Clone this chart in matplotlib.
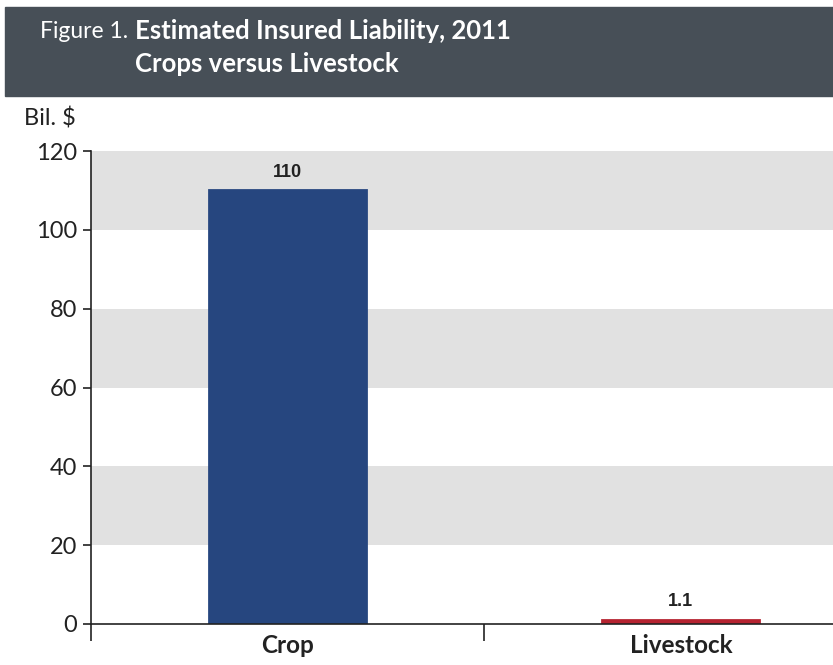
import matplotlib.pyplot as plt
from matplotlib.patches import Rectangle

categories = ["Crop", "Livestock"]
values = [110, 1.1]
value_labels = ["110", "1.1"]
bar_colors = ["#26467f", "#b52330"]
yticks = [0, 20, 40, 60, 80, 100, 120]

W, H = 833, 665
fig = plt.figure(figsize=(W / 100, H / 100), dpi=100)
fig.patch.set_facecolor("white")

narrow = ["Lato", "DejaVu Sans"]

# header band
fig.add_artist(Rectangle((5 / W, 1 - 96 / H), 1, (96 - 7) / H,
                         transform=fig.transFigure, color="#474f57", zorder=0))
fig.text(40 / W, 1 - 31 / H, "Figure 1.", color="white", fontsize=16.5,
         family=narrow, va="center", ha="left")
fig.text(135 / W, 1 - 31 / H, "Estimated Insured Liability, 2011", color="white",
         fontsize=18.5, family=narrow, fontweight="bold", va="center", ha="left")
fig.text(135 / W, 1 - 64 / H, "Crops versus Livestock", color="white",
         fontsize=18.5, family=narrow, fontweight="bold", va="center", ha="left")

fig.text(24 / W, 1 - 118 / H, "Bil. $", color="#222222", fontsize=17,
         family=narrow, va="center", ha="left")

ax = fig.add_axes([91 / W, 1 - 624 / H, (W - 91) / W, (624 - 151) / H])
ax.set_xlim(-0.5, 1.387)
ax.set_ylim(0, 120)

# alternating horizontal bands
for lo in (20, 60, 100):
    ax.axhspan(lo, lo + 20, color="#e1e1e1", zorder=0, lw=0)

x = list(range(len(categories)))
ax.bar(x, values, width=0.4, color=bar_colors, edgecolor=bar_colors,
       linewidth=2, zorder=2)
for xi, v, lab in zip(x, values, value_labels):
    ax.annotate(lab, (xi, v), xytext=(0, 7), textcoords="offset points",
                ha="center", va="bottom", fontsize=13, fontweight="bold",
                color="#222222", family=["Liberation Sans", "DejaVu Sans"])

for s in ("top", "right"):
    ax.spines[s].set_visible(False)
ax.spines["left"].set_color("#222222")
ax.spines["bottom"].set_color("#222222")
ax.spines["left"].set_linewidth(1.2)
ax.spines["bottom"].set_linewidth(1.2)

ax.set_yticks(yticks)
ax.set_yticklabels([str(t) for t in yticks], family=narrow, fontsize=17,
                   color="#222222")
ax.tick_params(axis="y", length=6, width=1.2, direction="out", pad=4,
               color="#222222")

# category boundaries as ticks, names as minor labels
ax.set_xticks([-0.5, 0.5])
ax.set_xticklabels([])
ax.tick_params(axis="x", which="major", length=12, width=1.2,
               direction="out", color="#222222")
ax.set_xticks(x, minor=True)
ax.set_xticklabels(categories, minor=True, family=narrow, fontsize=17.5,
                   fontweight="bold", color="#222222")
ax.tick_params(axis="x", which="minor", length=0, pad=7)

fig.savefig("out.png", dpi=100)
